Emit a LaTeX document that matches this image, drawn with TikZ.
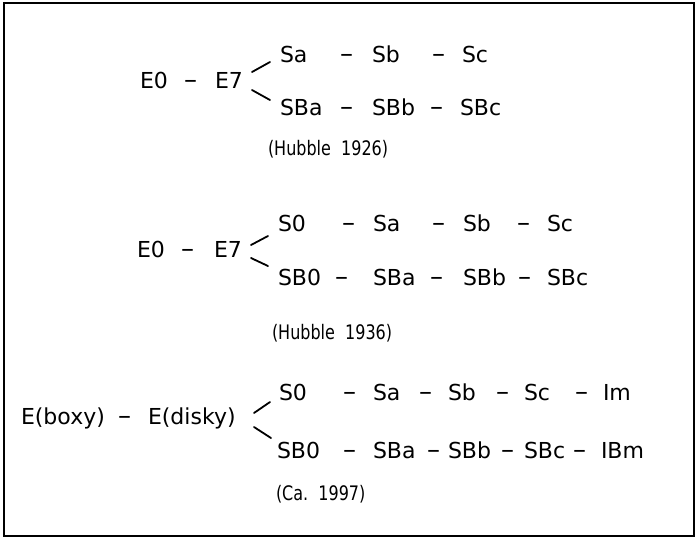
\documentclass[tikz,border=0pt]{standalone}
\usepackage{fontspec}
\setmainfont{DejaVu Sans}
\newfontfamily\capfont{DejaVu Sans}[FakeStretch=0.8]
\begin{document}
\begin{tikzpicture}[x=1pt,y=-1pt,
  lbl/.style={anchor=base west, inner sep=0pt, outer sep=0pt, font=\fontsize{22}{24}\selectfont},
  dsh/.style={lbl, font=\fontsize{26}{28}\selectfont},
  captxt/.style={anchor=base west, inner sep=0pt, outer sep=0pt, font=\capfont\fontsize{20}{22}\selectfont},
  branch/.style={line width=1.8pt, line cap=round},
  frame/.style={line width=2pt}]
\useasboundingbox (0,0) rectangle (696,539);
\draw[frame] (4,3) rectangle (694,536);

% ---------- Hubble 1926 ----------
\node[lbl] (a1) at (140,88) {E0};
\node[dsh] (a2) at (184,88) {–};
\node[lbl] (a3) at (215,88) {E7};
\node[lbl] (a4) at (280,62) {Sa};
\node[dsh] (a5) at (340,62) {–};
\node[lbl] (a6) at (372,62) {Sb};
\node[dsh] (a7) at (432,62) {–};
\node[lbl] (a8) at (462,62) {Sc};
\node[lbl] (a9) at (280,115) {SBa};
\node[dsh] (a10) at (340,115) {–};
\node[lbl] (a11) at (372,115) {SBb};
\node[dsh] (a12) at (430,115) {–};
\node[lbl] (a13) at (460,115) {SBc};
\node[captxt] (a14) at (268,155) {(Hubble\ \ 1926)};
\coordinate (a3u) at (252,72); \coordinate (a4u) at (270,62);
\coordinate (a3d) at (252,90); \coordinate (a9d) at (270,100);
\draw[branch] (a3u) -- (a4u);
\draw[branch] (a3d) -- (a9d);

% ---------- Hubble 1936 ----------
\node[lbl] (b1) at (137,257) {E0};
\node[dsh] (b2) at (181,257) {–};
\node[lbl] (b3) at (214,257) {E7};
\node[lbl] (b4) at (278,231) {S0};
\node[dsh] (b5) at (342,231) {–};
\node[lbl] (b6) at (373,231) {Sa};
\node[dsh] (b7) at (432,231) {–};
\node[lbl] (b8) at (463,231) {Sb};
\node[dsh] (b9) at (517,231) {–};
\node[lbl] (b10) at (547,231) {Sc};
\node[lbl] (b11) at (278,285) {SB0};
\node[dsh] (b12) at (335,285) {–};
\node[lbl] (b13) at (373,285) {SBa};
\node[dsh] (b14) at (430,285) {–};
\node[lbl] (b15) at (463,285) {SBb};
\node[dsh] (b16) at (518,285) {–};
\node[lbl] (b17) at (547,285) {SBc};
\node[captxt] (b18) at (272,339) {(Hubble\ \ 1936)};
\coordinate (b3u) at (251,245); \coordinate (b4u) at (268,236);
\coordinate (b3d) at (251,258); \coordinate (b11d) at (268,266);
\draw[branch] (b3u) -- (b4u);
\draw[branch] (b3d) -- (b11d);

% ---------- Ca. 1997 ----------
\node[lbl] (c1) at (21,424) {E(boxy)};
\node[dsh] (c2) at (118,424) {–};
\node[lbl] (c3) at (148,424) {E(disky)};
\node[lbl] (c4) at (279,400) {S0};
\node[dsh] (c5) at (343,400) {–};
\node[lbl] (c6) at (373,400) {Sa};
\node[dsh] (c7) at (419,400) {–};
\node[lbl] (c8) at (448,400) {Sb};
\node[dsh] (c9) at (496,400) {–};
\node[lbl] (c10) at (524,400) {Sc};
\node[dsh] (c11) at (575,400) {–};
\node[lbl] (c12) at (603,400) {Im};
\node[lbl] (c13) at (277,458) {SB0};
\node[dsh] (c14) at (343,458) {–};
\node[lbl] (c15) at (373,458) {SBa};
\node[dsh] (c16) at (427,458) {–};
\node[lbl] (c17) at (448,458) {SBb};
\node[dsh] (c18) at (501,458) {–};
\node[lbl] (c19) at (524,458) {SBc};
\node[dsh] (c20) at (573,458) {–};
\node[lbl] (c21) at (601,458) {IBm};
\node[captxt] (c22) at (276,500) {(Ca.\ \ 1997)};
\coordinate (c3u) at (254,413); \coordinate (c4u) at (270,402);
\coordinate (c3d) at (254,427); \coordinate (c13d) at (271,438);
\draw[branch] (c3u) -- (c4u);
\draw[branch] (c3d) -- (c13d);
\end{tikzpicture}
\end{document}
